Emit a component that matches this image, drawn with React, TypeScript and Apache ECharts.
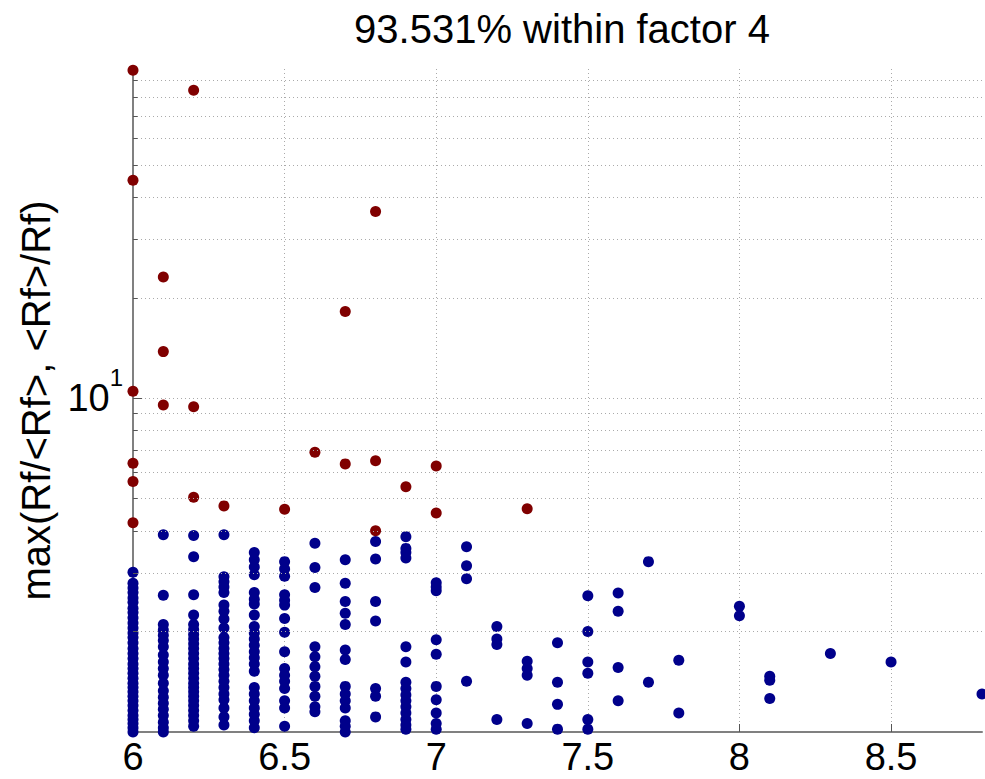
import React, { useEffect, useRef } from "react";
import * as echarts from "echarts";

const TITLE = "93.531% within factor 4";
const Y_NAME = "max(Rf/<Rf>, <Rf>/Rf)";
const X_MIN = 6;
const X_MAX = 8.8;
const X_STEP = 0.5;
const Y_MIN = 1;
const Y_MAX = 97;
const Y_GRID = [2, 3, 4, 5, 6, 7, 8, 9, 10, 20, 30, 40, 50, 60, 70, 80, 90];

// blue points (within factor 4), one array per x value
const b600 = [3.01, 2.79, 2.7, 2.62, 2.52, 2.45, 2.35, 2.28, 2.2, 2.12, 2.05, 1.98, 1.92, 1.85, 1.78, 1.72, 1.66, 1.6, 1.55, 1.5, 1.45, 1.4, 1.36, 1.32, 1.28, 1.24, 1.2, 1.16, 1.12, 1.09, 1.06, 1.03, 1.0];
const b610 = [3.9, 2.57, 2.1, 2.02, 1.95, 1.88, 1.8, 1.7, 1.62, 1.55, 1.48, 1.4, 1.33, 1.27, 1.22, 1.17, 1.12, 1.07, 1.03, 1.0];
const b620 = [3.88, 3.35, 2.58, 2.24, 2.1, 2.03, 1.96, 1.9, 1.84, 1.78, 1.72, 1.66, 1.6, 1.55, 1.5, 1.45, 1.4, 1.36, 1.32, 1.28, 1.24, 1.2, 1.16, 1.12, 1.08, 1.04];
const b630 = [3.9, 2.92, 2.82, 2.72, 2.62, 2.4, 2.3, 2.18, 2.05, 1.92, 1.85, 1.78, 1.72, 1.66, 1.6, 1.54, 1.48, 1.42, 1.36, 1.3, 1.25, 1.18, 1.11, 1.05];
const b640 = [3.45, 3.28, 3.12, 2.96, 2.62, 2.5, 2.42, 2.24, 2.07, 1.98, 1.9, 1.82, 1.74, 1.67, 1.6, 1.52, 1.36, 1.3, 1.24, 1.18, 1.13, 1.08, 1.03];
const b650 = [3.24, 3.08, 2.93, 2.58, 2.48, 2.4, 2.19, 1.99, 1.74, 1.55, 1.48, 1.42, 1.35, 1.24, 1.18, 1.04];
const b660 = [3.68, 3.11, 2.71, 1.8, 1.68, 1.57, 1.47, 1.37, 1.28, 1.19, 1.15];
const b670 = [3.28, 2.79, 2.46, 2.27, 2.1, 1.76, 1.65, 1.37, 1.3, 1.24, 1.18, 1.08, 1.04, 1.0];
const b680 = [3.72, 3.3, 2.46, 2.15, 1.35, 1.28, 1.11];
const b690 = [3.85, 3.55, 3.45, 3.32, 1.8, 1.62, 1.41, 1.35, 1.29, 1.24, 1.19, 1.14, 1.09, 1.05, 1.02];
const b700 = [2.8, 2.72, 2.65, 1.89, 1.71, 1.37, 1.25, 1.14, 1.06, 1.02];
const b710 = [3.59, 3.15, 2.88, 1.42];
const b720 = [2.07, 1.9, 1.83, 1.09];
const b730 = [1.63, 1.55, 1.48, 1.06];
const b740 = [1.85, 1.41, 1.21, 1.02];
const b750 = [2.56, 2.0, 1.62, 1.5, 1.09, 1.02];
const b760 = [2.61, 2.3, 1.56, 1.24];
const b770 = [3.24, 1.41];
const b780 = [1.64, 1.14];
const b800 = [2.38, 2.23];
const b810 = [1.47, 1.43, 1.26];
const b830 = [1.72];
const b850 = [1.62];
const b880 = [1.3];

const blueX = [6.0, 6.1, 6.2, 6.3, 6.4, 6.5, 6.6, 6.7, 6.8, 6.9, 7.0, 7.1, 7.2, 7.3, 7.4, 7.5, 7.6, 7.7, 7.8, 8.0, 8.1, 8.3, 8.5, 8.8];
const blueY = [b600, b610, b620, b630, b640, b650, b660, b670, b680, b690, b700, b710, b720, b730, b740, b750, b760, b770, b780, b800, b810, b830, b850, b880];

// red points (outside factor 4)
const redX = [6.0, 6.0, 6.0, 6.0, 6.0, 6.0, 6.1, 6.1, 6.1, 6.2, 6.2, 6.2, 6.3, 6.5, 6.6, 6.7, 6.7, 6.8, 6.8, 6.8, 6.9, 7.0, 7.0, 7.3];
const redY = [96.2, 45.0, 10.5, 6.39, 5.63, 4.24, 23.1, 13.8, 9.55, 83.8, 9.44, 5.05, 4.76, 4.65, 6.89, 18.2, 6.36, 36.3, 6.5, 4.01, 5.43, 6.27, 4.53, 4.67];

const FONT = "'Liberation Sans', Arial, Helvetica, sans-serif";

export default function App() {
  const ref = useRef<HTMLDivElement>(null);

  useEffect(() => {
    if (!ref.current) return;
    const chart = echarts.init(ref.current, undefined, { renderer: "svg" });

    const blueData: number[][] = [];
    blueX.forEach((x, i) => blueY[i].forEach((y) => blueData.push([x, y])));
    const redData = redX.map((x, i) => [x, redY[i]]);

    const tickSegs = Y_GRID.map((v) => [
      { coord: [X_MIN, v] },
      { coord: [X_MIN + (v === 10 ? 0.03 : 0.015), v] },
    ]);

    chart.setOption({
      animation: false,
      backgroundColor: "#ffffff",
      title: {
        text: TITLE,
        left: 557,
        top: 4,
        textAlign: "center",
        textStyle: { fontFamily: FONT, fontSize: 40, fontWeight: "normal", color: "#000" },
      },
      grid: { left: 133, right: 3, top: 69, bottom: 47, containLabel: false },
      xAxis: {
        type: "value",
        min: X_MIN,
        max: X_MAX,
        interval: X_STEP,
        axisLine: { show: true, lineStyle: { color: "#808080", width: 2 } },
        axisTick: { show: true, inside: true, length: 8, lineStyle: { color: "#555", width: 1 } },
        axisLabel: {
          fontFamily: FONT,
          fontSize: 38,
          color: "#000",
          margin: 6,
          showMaxLabel: false,
          formatter: (v: number) => String(Math.round(v * 10) / 10),
        },
        splitLine: {
          show: true,
          showMinLine: false,
          showMaxLine: false,
          lineStyle: { color: "#aaa", width: 1, type: [1, 3] },
        },
      },
      yAxis: {
        type: "log",
        logBase: 10,
        min: Y_MIN,
        max: Y_MAX,
        name: Y_NAME,
        nameLocation: "middle",
        nameGap: 74,
        nameRotate: 90,
        nameTextStyle: { fontFamily: FONT, fontSize: 40, color: "#000" },
        axisLine: { show: true, lineStyle: { color: "#808080", width: 2 } },
        axisTick: { show: false },
        splitLine: { show: false },
        axisLabel: {
          margin: 10,
          showMaxLabel: false,
          formatter: (v: number) => (Math.abs(v - 10) < 1e-6 ? "{b|10}{s|1}" : ""),
          rich: {
            b: { fontFamily: FONT, fontSize: 38, color: "#000", padding: [14, 0, 14, 0] },
            s: { fontFamily: FONT, fontSize: 24, color: "#000", verticalAlign: "top" },
          },
        },
      },
      series: [
        {
          name: "grid",
          type: "scatter",
          data: [],
          silent: true,
          z: 1,
          markLine: {
            silent: true,
            symbol: ["none", "none"],
            label: { show: false },
            lineStyle: { color: "#aaa", width: 1, type: [1, 3] },
            data: Y_GRID.map((v) => ({ yAxis: v })),
          },
        },
        {
          name: "ticks",
          type: "scatter",
          data: [],
          silent: true,
          z: 1,
          markLine: {
            silent: true,
            symbol: ["none", "none"],
            label: { show: false },
            lineStyle: { color: "#555", width: 1, type: "solid" },
            data: tickSegs,
          },
        },
        {
          name: "within",
          type: "scatter",
          symbol: "circle",
          symbolSize: 11,
          itemStyle: { color: "#00008b", opacity: 1 },
          data: blueData,
          z: 3,
        },
        {
          name: "outside",
          type: "scatter",
          symbol: "circle",
          symbolSize: 11,
          itemStyle: { color: "#800000", opacity: 1 },
          data: redData,
          z: 4,
        },
      ],
    });

    return () => chart.dispose();
  }, []);

  return (
    <div
      ref={ref}
      style={{ position: "fixed", left: 0, top: 0, width: 985, height: 779, background: "#fff" }}
    />
  );
}
